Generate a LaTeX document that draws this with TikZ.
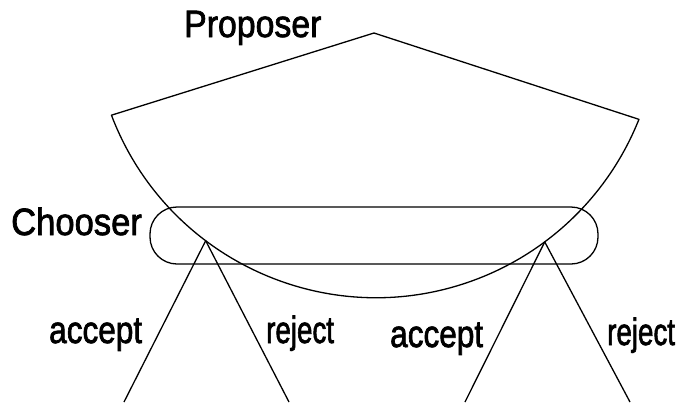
\documentclass[tikz,border=0pt]{standalone}
\usepackage{fontspec}
\setmainfont{Liberation Sans}
\newfontfamily\lblfont{Liberation Sans}[FakeBold=2]
\usetikzlibrary{calc}
\begin{document}
\begin{tikzpicture}[x=1pt,y=1pt,
  ln/.style={line width=1.3pt, line join=round},
  lbl/.style={inner sep=0pt, anchor=base west, font=\lblfont\fontsize{38}{40}\selectfont}]
\useasboundingbox (0,0) rectangle (686,-402);
% labels
\node[lbl] (proposer) at (184,-37) {\scalebox{0.89}[1]{Proposer}};
\node[lbl] (chooser) at (11,-235) {\scalebox{0.91}[1]{Chooser}};
\node[lbl] (acc1) at (49,-343) {\scalebox{0.83}[1]{accept}};
\node[lbl] (rej1) at (266,-343) {\scalebox{0.73}[1]{reject}};
\node[lbl] (acc2) at (390,-347) {\scalebox{0.83}[1]{accept}};
\node[lbl] (rej2) at (607,-345) {\scalebox{0.73}[1]{reject}};
% chooser box
\node[draw, ln, rounded corners=27pt, minimum width=448pt, minimum height=57pt, inner sep=0pt] (cbox) at (374,-235.5) {};
% proposer shape
\coordinate (c) at (376,-14.7);
\coordinate (apex) at (374,-33);
\coordinate (pl) at ($(c)+(200.8:283)$);
\coordinate (bl) at ($(c)+(233:283)$);
\coordinate (br) at ($(c)+(306.6:283)$);
\draw[ln] (apex) -- (pl) arc[start angle=200.8, end angle=338.3, radius=283] -- cycle;
% branches
\coordinate (l1) at (124,-402);
\coordinate (l2) at (289,-402);
\coordinate (l3) at (465,-402);
\coordinate (l4) at (630,-402);
\draw[ln] (bl) -- (l1);
\draw[ln] (bl) -- (l2);
\draw[ln] (br) -- (l3);
\draw[ln] (br) -- (l4);
\end{tikzpicture}
\end{document}
